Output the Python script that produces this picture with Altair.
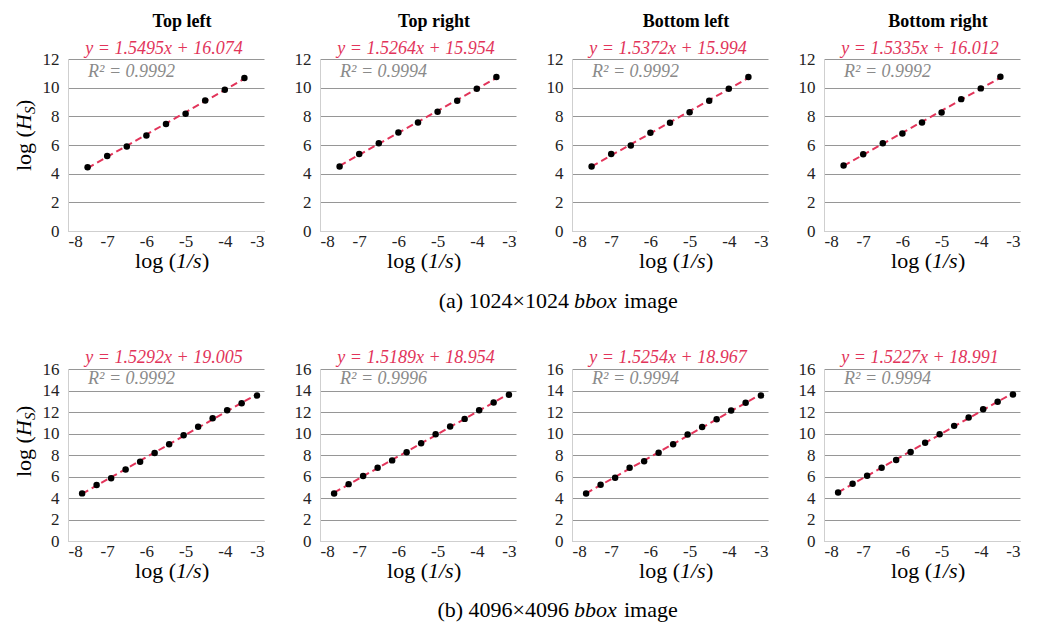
import altair as alt
import pandas as pd

FONT = "Liberation Serif"
RED = "#e2345a"
R2_GRAY = "#8a8a8a"
GRID = "#969696"
DOMAIN = "#cfcfcf"

# ---- data ----
panel_titles = ["Top left", "Top right", "Bottom left", "Bottom right"]
captions = [("(a) 1024\u00d71024", "bbox", "image"), ("(b) 4096\u00d74096", "bbox", "image")]

top_x = [-7.5, -7.0, -6.5, -6.0, -5.5, -5.0, -4.5, -4.0, -3.5]
top_y_tl = [4.45, 5.24, 5.90, 6.67, 7.46, 8.18, 9.11, 9.86, 10.68]
top_y_tr = [4.50, 5.38, 6.13, 6.87, 7.57, 8.32, 9.09, 9.93, 10.74]
top_y_bl = [4.50, 5.38, 5.96, 6.85, 7.55, 8.29, 9.09, 9.93, 10.74]
top_y_br = [4.57, 5.36, 6.13, 6.80, 7.57, 8.27, 9.20, 9.95, 10.76]
top_eq = ["y = 1.5495x + 16.074", "y = 1.5264x + 15.954", "y = 1.5372x + 15.994", "y = 1.5335x + 16.012"]
top_r2 = ["R\u00b2 = 0.9992", "R\u00b2 = 0.9994", "R\u00b2 = 0.9992", "R\u00b2 = 0.9992"]

bot_x = [-7.64, -7.27, -6.90, -6.53, -6.16, -5.79, -5.42, -5.05, -4.68, -4.31, -3.94, -3.57, -3.18]
bot_y_tl = [4.43, 5.22, 5.84, 6.66, 7.37, 8.18, 9.00, 9.84, 10.62, 11.41, 12.16, 12.81, 13.53]
bot_y_tr = [4.42, 5.29, 6.04, 6.82, 7.50, 8.25, 9.09, 9.93, 10.65, 11.36, 12.17, 12.89, 13.60]
bot_y_bl = [4.42, 5.23, 5.88, 6.81, 7.41, 8.22, 9.00, 9.90, 10.61, 11.33, 12.14, 12.86, 13.54]
bot_y_br = [4.51, 5.32, 6.07, 6.82, 7.53, 8.28, 9.15, 9.93, 10.71, 11.49, 12.26, 12.95, 13.63]
bot_eq = ["y = 1.5292x + 19.005", "y = 1.5189x + 18.954", "y = 1.5254x + 18.967", "y = 1.5227x + 18.991"]
bot_r2 = ["R\u00b2 = 0.9992", "R\u00b2 = 0.9996", "R\u00b2 = 0.9994", "R\u00b2 = 0.9994"]

x_ticks = [-8, -7, -6, -5, -4, -3]

W, H = 196, 172


def txt(s, x, y, size, color="black", style="normal", weight="normal",
        align="center", baseline="middle", angle=0):
    return alt.Chart(pd.DataFrame({"t": [s]})).mark_text(
        align=align, baseline=baseline, font=FONT, fontSize=size,
        fontStyle=style, fontWeight=weight, color=color, angle=angle
    ).encode(text="t:N", x=alt.value(x), y=alt.value(y))


def panel(xs, ys, ymax, eq, r2, title=None, first=False, caption=None,
          eq_y=-11, r2_y=13, ytitle_c=76, cap_y=248):
    df = pd.DataFrame({"x": xs, "y": ys})
    base = alt.Chart(df)
    xenc = alt.X("x:Q", scale=alt.Scale(domain=[-8, -3], nice=False, zero=False),
                 axis=alt.Axis(values=x_ticks, title=None, grid=False, ticks=False,
                               labelPadding=2, labelFontSize=17, labelFont=FONT,
                               labelColor="#222222", labelExpr="datum.value + ''"))
    yenc = alt.Y("y:Q", scale=alt.Scale(domain=[0, ymax], nice=False, zero=True),
                 axis=alt.Axis(values=list(range(0, ymax + 1, 2)), title=None,
                               ticks=False, grid=True, labelPadding=9,
                               labelFontSize=17, labelFont=FONT, labelColor="#222222"))
    line = base.transform_regression("x", "y").mark_line(
        color=RED, strokeDash=[7, 4], strokeWidth=2).encode(x=xenc, y=yenc)
    pts = base.mark_circle(size=42, color="black", opacity=1).encode(x=xenc, y=yenc)
    ty = H + 37
    layers = [line, pts,
              txt(eq, 96, eq_y, 18, color=RED, style="italic"),
              txt(r2, 20, r2_y, 18, color=R2_GRAY, style="italic", align="left"),
              # x-axis title: log (1/s)
              txt("log (", 108, ty, 22, align="right", baseline="alphabetic"),
              txt("1/s", 108, ty, 22, style="italic", align="left", baseline="alphabetic"),
              txt(")", 134, ty, 22, align="left", baseline="alphabetic")]
    if title is not None:
        layers.append(txt(title, 114, -37, 18, weight="bold"))
    if first:
        s = ytitle_c + 36
        bx = -37
        layers += [
            txt("log (", bx, s, 22, align="left", baseline="alphabetic", angle=270),
            txt("H", bx, s - 41, 22, style="italic", align="left", baseline="alphabetic", angle=270),
            txt("S", bx + 4, s - 57, 15, style="italic", align="left", baseline="alphabetic", angle=270),
            txt(")", bx, s - 64, 22, align="left", baseline="alphabetic", angle=270),
        ]
    if caption is not None:
        a, b, c = caption
        layers += [
            txt(a, 249, cap_y, 22, align="right", baseline="alphabetic"),
            txt(b, 254, cap_y, 22, style="italic", align="left", baseline="alphabetic"),
            txt(c, 304, cap_y, 22, align="left", baseline="alphabetic"),
        ]
    return alt.layer(*layers).properties(width=W, height=H)


top_ys = [top_y_tl, top_y_tr, top_y_bl, top_y_br]
bot_ys = [bot_y_tl, bot_y_tr, bot_y_bl, bot_y_br]

row1 = alt.hconcat(*[
    panel(top_x, top_ys[i], 12, top_eq[i], top_r2[i], title=panel_titles[i],
          first=(i == 0), caption=(captions[0] if i == 1 else None),
          eq_y=-10, r2_y=13, ytitle_c=76, cap_y=249)
    for i in range(4)], spacing=56, bounds="flush")

row2 = alt.hconcat(*[
    panel(bot_x, bot_ys[i], 16, bot_eq[i], bot_r2[i], title=None,
          first=(i == 0), caption=(captions[1] if i == 1 else None),
          eq_y=-11, r2_y=10, ytitle_c=72, cap_y=248)
    for i in range(4)], spacing=56, bounds="flush")

# nested flush rows count as zero height, so the spacing spans a full panel height
chart = alt.vconcat(row1, row2, spacing=H + 138, bounds="flush").properties(
    padding={"left": 5, "top": 5, "right": 5, "bottom": 5}
).configure(font=FONT, background="white").configure_view(stroke=None).configure_axis(
    labelFont=FONT, labelFontSize=17, labelColor="#222222",
    domainColor=DOMAIN, domainWidth=1, gridColor=GRID, gridWidth=1
)

chart.save("out.html", embed_options={"renderer": "svg", "actions": False})
